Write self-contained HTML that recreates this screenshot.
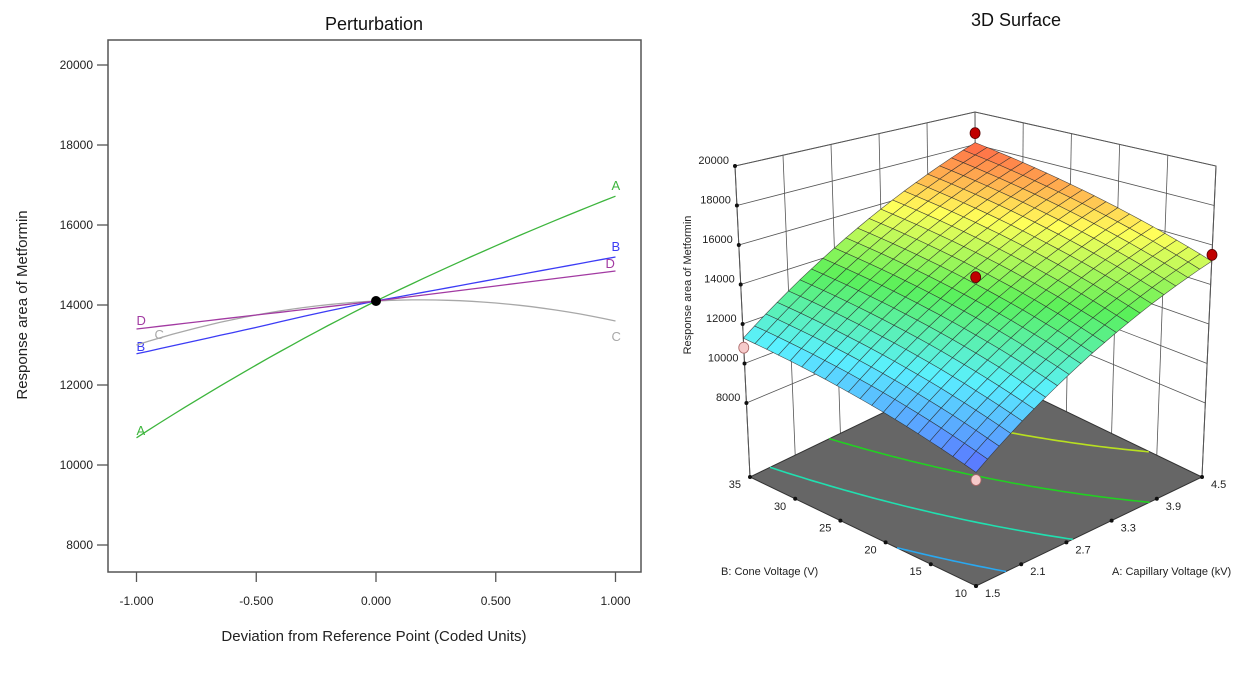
<!DOCTYPE html>
<html><head><meta charset="utf-8"><style>
body{margin:0;background:#fff;width:1256px;height:675px;overflow:hidden;font-family:"Liberation Sans",sans-serif}
svg{position:absolute;left:0;top:0}
</style></head><body>
<svg id="c" width="1256" height="675"></svg>
<script>
// ---- Perturbation data ----
const pertX = [-1, -0.5, 0, 0.5, 1];
const seriesNames = ["A", "B", "C", "D"];
const seriesA = [10680, 12500, 14100, 15480, 16720];
const seriesB = [12780, 13440, 14100, 14650, 15200];
const seriesC = [13000, 13750, 14100, 14050, 13600];
const seriesD = [13400, 13750, 14100, 14475, 14850];
const yTicks = [8000, 10000, 12000, 14000, 16000, 18000, 20000];
const xTicks = [-1, -0.5, 0, 0.5, 1];
const xTickLabels = ["-1.000", "-0.500", "0.000", "0.500", "1.000"];
const refPoint = [0, 14100];
// ---- 3D surface data ----
const aTicks = [1.5, 2.1, 2.7, 3.3, 3.9, 4.5];
const bTicks = [10, 15, 20, 25, 30, 35];
const zTicks = [8000, 10000, 12000, 14000, 16000, 18000, 20000];
const modelCoef = [13950, 3250, 1300, 170, -350, -200]; // intercept, A, B, AB, A^2, B^2 (coded)
const contourLevels = [10000, 12000, 14000, 16000, 18000];
const designA = [4.5, 4.5, 3.0, 1.5, 1.5];
const designB = [35, 10, 22.5, 35, 10];
const designZ = [18700, 15500, 14300, 10800, 8700];

const NS = "http://www.w3.org/2000/svg";
const svg = document.getElementById("c");
function mk(tag, attrs, parent, name) {
  const e = document.createElementNS(NS, tag);
  for (const k in attrs) e.setAttribute(k, attrs[k]);
  
  
  (parent || svg).appendChild(e);
  return e;
}
function txt(s, attrs, parent, name) { const t = mk("text", attrs, parent, name); t.textContent = s; return t; }

// ===== Left chart =====
const L = { x0: 108, x1: 641, y0: 40, y1: 572 };
const px = v => 376 + v * 239.5;
const py = v => 65 + (20000 - v) * 0.04;
const g1 = mk("g", {}, svg, "perturbation-plot");
txt("Perturbation", { x: 374, y: 30, "font-size": 18, "text-anchor": "middle", fill: "#111" }, g1, "perturbation-title");
mk("rect", { x: L.x0, y: L.y0, width: L.x1 - L.x0, height: L.y1 - L.y0, fill: "none", stroke: "#555", "stroke-width": 1.5 }, g1, "plot-frame");
yTicks.forEach(v => {
  mk("line", { x1: 97, x2: L.x0, y1: py(v), y2: py(v), stroke: "#555", "stroke-width": 1.3 }, g1, "y-tick");
  txt(String(v), { x: 93, y: py(v) + 4, "font-size": 12, "text-anchor": "end", fill: "#222" }, g1, "y-tick-label");
});
xTicks.forEach((v, i) => {
  mk("line", { x1: px(v), x2: px(v), y1: L.y1, y2: L.y1 + 10, stroke: "#555", "stroke-width": 1.3 }, g1, "x-tick");
  txt(xTickLabels[i], { x: px(v), y: 605, "font-size": 12, "text-anchor": "middle", fill: "#222" }, g1, "x-tick-label");
});
txt("Deviation from Reference Point (Coded Units)", { x: 374, y: 641, "font-size": 15, "text-anchor": "middle", fill: "#222" }, g1, "x-axis-title");
txt("Response area of Metformin", { x: 0, y: 0, "font-size": 15, "text-anchor": "middle", fill: "#222", transform: "translate(27,305) rotate(-90)" }, g1, "y-axis-title");
const allSeries = [seriesA, seriesB, seriesC, seriesD];
const colors = ["#3db53d", "#3c3cf5", "#a8a8a8", "#a23aa2"];
const lblL = [[0, -3], [0, -3], [18, -6], [0, -4]];
const lblR = [[-4, -6], [-4, -6], [-4, 20], [-10, -3]];
allSeries.forEach((s, i) => {
  let d = "";
  for (let k = 0; k < s.length - 1; k++) {
    const x0 = pertX[k], x1 = pertX[k + 1];
    const j = Math.min(Math.max(k, 0), s.length - 3);
    const xs = [pertX[j], pertX[j + 1], pertX[j + 2]], ys = [s[j], s[j + 1], s[j + 2]];
    for (let t = 0; t <= 10; t++) {
      const x = x0 + (x1 - x0) * t / 10;
      let y = 0;
      for (let m = 0; m < 3; m++) { let l = 1; for (let n = 0; n < 3; n++) if (n !== m) l *= (x - xs[n]) / (xs[m] - xs[n]); y += ys[m] * l; }
      d += (d ? "L" : "M") + px(x).toFixed(1) + "," + py(y).toFixed(1);
    }
  }
  mk("path", { d, fill: "none", stroke: colors[i], "stroke-width": 1.3 }, g1, "series-" + seriesNames[i] + "-line");
  txt(seriesNames[i], { x: px(-1) + lblL[i][0], y: py(s[0]) + lblL[i][1], "font-size": 13, fill: colors[i] }, g1, "series-" + seriesNames[i] + "-label-left");
  txt(seriesNames[i], { x: px(1) + lblR[i][0], y: py(s[s.length - 1]) + lblR[i][1], "font-size": 13, fill: colors[i] }, g1, "series-" + seriesNames[i] + "-label-right");
});
mk("circle", { cx: px(refPoint[0]), cy: py(refPoint[1]), r: 5, fill: "#000" }, g1, "reference-point");

// ===== 3D surface =====
const g2 = mk("g", {}, svg, "surface-plot");
const ZF = 4250, ZT = 20000;
const C = {
  "000": [976, 586], "100": [1202, 477], "010": [750, 477], "110": [976, 368],
  "001": [976, 211], "101": [1216, 166], "011": [735, 166], "111": [975, 112]
};
function P(ua, ub, z) {
  const w = (z - ZF) / (ZT - ZF);
  let x = 0, y = 0;
  for (const a of [0, 1]) for (const b of [0, 1]) for (const c of [0, 1]) {
    const f = (a ? ua : 1 - ua) * (b ? ub : 1 - ub) * (c ? w : 1 - w);
    const p = C["" + a + b + c]; x += f * p[0]; y += f * p[1];
  }
  return [x, y];
}
const ua = A => (A - aTicks[0]) / (aTicks[aTicks.length - 1] - aTicks[0]);
const ub = B => (B - bTicks[0]) / (bTicks[bTicks.length - 1] - bTicks[0]);
function model(u, v) { const a = 2 * u - 1, b = 2 * v - 1; const c = modelCoef; return c[0] + c[1] * a + c[2] * b + c[3] * a * b + c[4] * a * a + c[5] * b * b; }
const pts = arr => arr.map(p => p[0].toFixed(1) + "," + p[1].toFixed(1)).join(" ");
txt("3D Surface", { x: 1016, y: 26, "font-size": 18, "text-anchor": "middle", fill: "#111" }, g2, "surface-title");
const wc = "#555";
mk("polyline", { points: pts([P(0, 1, ZF), P(0, 1, ZT), P(1, 1, ZT), P(1, 0, ZT), P(1, 0, ZF)]), fill: "none", stroke: wc, "stroke-width": 1 }, g2, "box-top-edges");
mk("line", { x1: P(1, 1, ZF)[0], y1: P(1, 1, ZF)[1], x2: P(1, 1, ZT)[0], y2: P(1, 1, ZT)[1], stroke: wc, "stroke-width": 1 }, g2, "back-edge");
aTicks.slice(1, -1).forEach(A => { const p = P(ua(A), 1, ZF), q = P(ua(A), 1, ZT); mk("line", { x1: p[0], y1: p[1], x2: q[0], y2: q[1], stroke: wc, "stroke-width": 0.8 }, g2, "left-wall-gridline"); });
bTicks.slice(1, -1).forEach(B => { const p = P(1, ub(B), ZF), q = P(1, ub(B), ZT); mk("line", { x1: p[0], y1: p[1], x2: q[0], y2: q[1], stroke: wc, "stroke-width": 0.8 }, g2, "right-wall-gridline"); });
zTicks.forEach(z => { mk("polyline", { points: pts([P(0, 1, z), P(1, 1, z), P(1, 0, z)]), fill: "none", stroke: wc, "stroke-width": 0.8 }, g2, "wall-z-gridline"); });
mk("polygon", { points: pts([P(0, 0, ZF), P(1, 0, ZF), P(1, 1, ZF), P(0, 1, ZF)]), fill: "#666", stroke: "#333", "stroke-width": 1 }, g2, "floor");
const contourColors = ["#2aa8f0", "#20e0b0", "#22d022", "#b8e020", "#f0a020"];
contourLevels.forEach((lev, li) => {
  const line = [];
  for (let i = 0; i <= 60; i++) {
    const v = i / 60;
    let lo = 0, hi = 1; const f = u => model(u, v) - lev;
    if (f(lo) * f(hi) > 0) { if (line.length) break; else continue; }
    for (let k = 0; k < 30; k++) { const m = (lo + hi) / 2; if (f(lo) * f(m) <= 0) hi = m; else lo = m; }
    line.push(P((lo + hi) / 2, v, ZF));
  }
  if (line.length > 1) mk("polyline", { points: pts(line), fill: "none", stroke: contourColors[li], "stroke-width": 1.6 }, g2, "floor-contour");
});
mk("line", { x1: P(0, 1, ZF)[0], y1: P(0, 1, ZF)[1], x2: P(0, 1, ZT)[0], y2: P(0, 1, ZT)[1], stroke: wc, "stroke-width": 1 }, g2, "z-axis-line");
mk("line", { x1: P(1, 0, ZF)[0], y1: P(1, 0, ZF)[1], x2: P(1, 0, ZT)[0], y2: P(1, 0, ZT)[1], stroke: wc, "stroke-width": 1 }, g2, "right-edge");
const zs = []; const N = 20;
for (let i = 0; i <= N; i++) for (let j = 0; j <= N; j++) zs.push(model(i / N, j / N));
const zmin = Math.min(...zs), zmax = Math.max(...zs);
const cmap = [[90, 110, 255], [90, 240, 255], [90, 240, 90], [255, 255, 90], [255, 100, 70]];
function col(z) {
  let t = (z - zmin) / (zmax - zmin) * (cmap.length - 1); t = Math.max(0, Math.min(cmap.length - 1.0001, t));
  const k = Math.floor(t), f = t - k, a = cmap[k], b = cmap[k + 1];
  return "rgb(" + a.map((x, i) => Math.round(x + (b[i] - x) * f)).join(",") + ")";
}
const cells = [];
for (let i = 0; i < N; i++) for (let j = 0; j < N; j++) cells.push([i, j]);
cells.sort((p, q) => (q[0] + q[1]) - (p[0] + p[1]));
const gs = mk("g", {}, g2, "response-surface");
cells.forEach(([i, j]) => {
  const u0 = i / N, u1 = (i + 1) / N, v0 = j / N, v1 = (j + 1) / N;
  const poly = [P(u0, v0, model(u0, v0)), P(u1, v0, model(u1, v0)), P(u1, v1, model(u1, v1)), P(u0, v1, model(u0, v1))];
  mk("polygon", { points: pts(poly), fill: col(model((u0 + u1) / 2, (v0 + v1) / 2)), stroke: "#2a2a2a", "stroke-width": 0.6, "stroke-opacity": 0.8 }, gs, "surface-cell");
});
designZ.forEach((z, i) => {
  const u = ua(designA[i]), v = ub(designB[i]);
  const above = z >= model(u, v);
  const p = P(u, v, z);
  mk("ellipse", { cx: p[0], cy: p[1], rx: 5, ry: 5.5, fill: above ? "#c00000" : "#f6caca", stroke: above ? "#500" : "#a66", "stroke-width": 0.8 }, g2, "design-point");
});
zTicks.forEach(z => { const p = P(0, 1, z); mk("circle", { cx: p[0], cy: p[1], r: 2, fill: "#111" }, g2, "z-tick");
  txt(String(z), { x: p[0] - 6, y: p[1] - 2, "font-size": 11, "text-anchor": "end", fill: "#222" }, g2, "z-tick-label"); });
aTicks.forEach(A => { const p = P(ua(A), 0, ZF); mk("circle", { cx: p[0], cy: p[1], r: 2, fill: "#111" }, g2, "a-tick");
  txt(String(A), { x: p[0] + 9, y: p[1] + 11, "font-size": 11, fill: "#222" }, g2, "a-tick-label"); });
bTicks.forEach(B => { const p = P(0, ub(B), ZF); mk("circle", { cx: p[0], cy: p[1], r: 2, fill: "#111" }, g2, "b-tick");
  txt(String(B), { x: p[0] - 9, y: p[1] + 11, "font-size": 11, "text-anchor": "end", fill: "#222" }, g2, "b-tick-label"); });
txt("B: Cone Voltage  (V)", { x: 721, y: 575, "font-size": 11, fill: "#222", "xml:space": "preserve" }, g2, "b-axis-title");
txt("A: Capillary Voltage (kV)", { x: 1112, y: 575, "font-size": 11, fill: "#222" }, g2, "a-axis-title");
txt("Response area of Metformin", { x: 0, y: 0, "font-size": 11, "text-anchor": "middle", fill: "#222", transform: "translate(691,285) rotate(-90)" }, g2, "z-axis-title");
</script>
</body></html>
